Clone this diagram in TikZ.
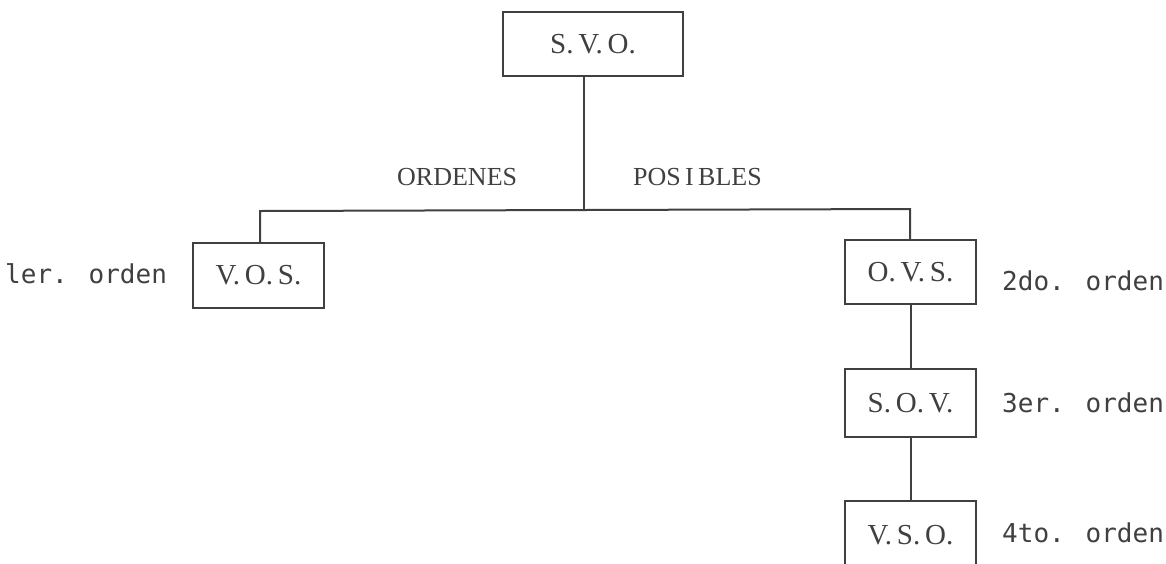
\documentclass[tikz,border=0pt]{standalone}
\usepackage{fontspec}
\newfontfamily\monof{DejaVu Sans Mono}
\newfontfamily\boxf{Liberation Serif}
\definecolor{ink}{HTML}{404040}
\definecolor{txt}{HTML}{404040}
\begin{document}
\begin{tikzpicture}[x=1pt,y=-1pt,
  box/.style={draw=ink,line width=2pt,minimum width=131pt,minimum height=65pt,inner sep=0pt,
    text=txt,font=\boxf\fontsize{29}{29}\selectfont},
  lab/.style={anchor=base west,text=txt,inner sep=0pt,font=\monof\fontsize{26}{26}\selectfont},
  head/.style={anchor=base west,text=txt,inner sep=0pt,font=\boxf\fontsize{26}{26}\selectfont},
  conn/.style={draw=ink,line width=2pt}]
\useasboundingbox (0,0) rectangle (1166,563);
\clip (0,0) rectangle (1166,563);
\node[box,minimum width=180pt,minimum height=64pt] (svo) at (593,44) {S.\,V.\,O.};
\node[box] (vos) at (258.5,275.5) {V.\,O.\,S.};
\node[box,minimum height=64pt] (ovs) at (910.5,272) {O.\,V.\,S.};
\node[box,minimum height=68pt] (sov) at (910.5,403) {S.\,O.\,V.};
\node[box,minimum height=68pt] (vso) at (910.5,535) {V.\,S.\,O.};
\coordinate (j) at (584,210);
\coordinate (hl) at (260,211);
\coordinate (hr) at (910,209);
\draw[conn] (svo.south -| j) -- (j);
\draw[conn] (vos.north -| hl) -- (hl) -- (hr) -- (ovs.north -| hr);
\draw[conn] (ovs.south) -- (sov.north);
\draw[conn] (sov.south) -- (vso.north);
\node[head] (ord) at (397,185) {ORDENES};
\node[head] (pos) at (633,185) {POS\,I\,BLES};
\node[lab] (l1) at (5,283) {ler. orden};
\node[lab] (l2) at (1002,290) {2do. orden};
\node[lab] (l3) at (1002,412) {3er. orden};
\node[lab] (l4) at (1002,542) {4to. orden};
\end{tikzpicture}
\end{document}
